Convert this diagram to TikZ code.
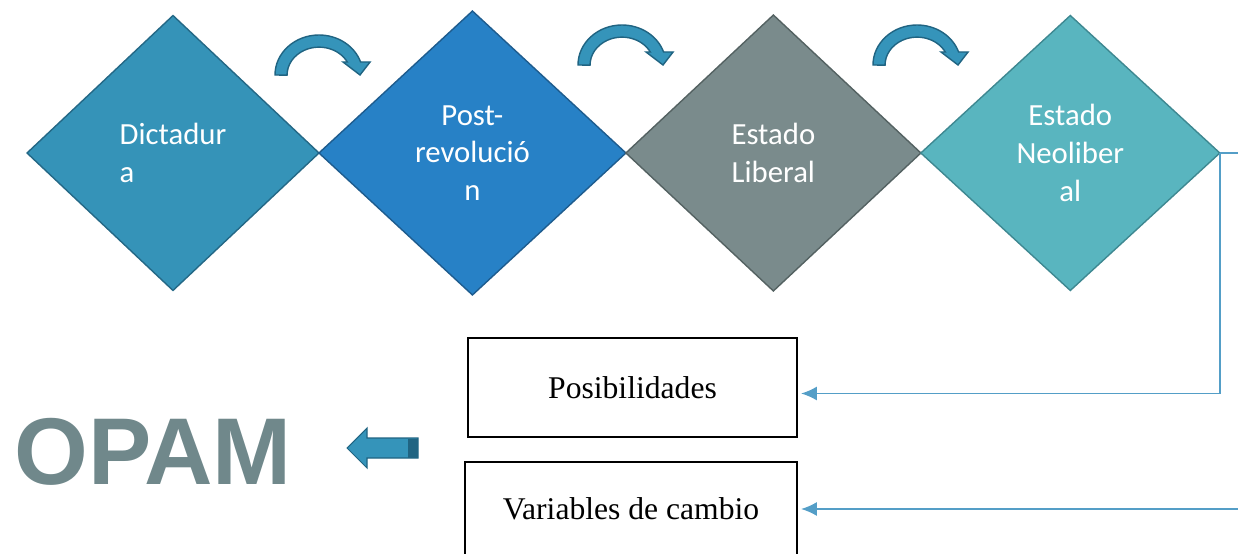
\documentclass[tikz,border=0pt]{standalone}
\usepackage{fontspec}
\setmainfont{Liberation Serif}
\newfontfamily\calibrifont{Carlito}
\newfontfamily\opamfont{Liberation Sans}
\usetikzlibrary{positioning,shapes.geometric,arrows.meta}

\definecolor{dictadura}{RGB}{53,147,184}
\definecolor{dictaduraborde}{RGB}{36,104,134}
\definecolor{postrev}{RGB}{39,129,198}
\definecolor{postrevborde}{RGB}{30,92,142}
\definecolor{liberal}{RGB}{122,139,140}
\definecolor{liberalborde}{RGB}{84,98,98}
\definecolor{neoliberal}{RGB}{89,181,191}
\definecolor{neoliberalborde}{RGB}{62,136,145}
\definecolor{flecha}{RGB}{53,148,186}
\definecolor{flechaborde}{RGB}{32,100,130}
\definecolor{linea}{RGB}{84,158,199}
\definecolor{opamgris}{RGB}{112,136,139}

\tikzset{
  estado/.style={diamond, draw, line width=0.8pt, outer sep=0pt, inner sep=0pt,
    text=white, align=center, font=\calibrifont\fontsize{17.5}{21.5}\selectfont},
  caja/.style={draw, line width=0.7pt, font=\fontsize{18}{22}\selectfont},
  conector/.style={draw=linea, line width=0.9pt},
  giro/.style={fill=flecha, draw=flechaborde, line width=0.8pt},
}

\begin{document}
\begin{tikzpicture}[x=0.02cm, y=-0.02cm]
  \useasboundingbox (0,0) rectangle (1238,554);
  \clip (0,0) rectangle (1238,554);

  % etapas
  \node[estado, fill=dictadura, draw=dictaduraborde, align=left,
        minimum width=5.84cm, minimum height=5.5cm] (d1) at (173,153) {Dictadur\\a};
  \node[estado, fill=postrev, draw=postrevborde,
        minimum width=6.14cm, minimum height=5.68cm, right=0pt of d1] (d2) {Post-\\revolució\\n};
  \node[estado, fill=liberal, draw=liberalborde,
        minimum width=5.9cm, minimum height=5.52cm, right=0pt of d2] (d3) {Estado\\Liberal};
  \node[estado, fill=neoliberal, draw=neoliberalborde,
        minimum width=5.98cm, minimum height=5.5cm, right=0pt of d3] (d4) {Estado\\Neoliber\\al};

  % flechas curvas entre etapas
  \foreach \x/\y in {275/75, 578/65, 873/65}
    \draw[giro] (\x,\y) arc[start angle=180, end angle=341, x radius=44, y radius=40]
      -- ++(9.5,0) -- (\x+85,\y) -- (\x+68,\y-13) -- (\x+72.3,\y-13)
      arc[start angle=332, end angle=180, x radius=32, y radius=28] -- cycle;

  % cajas
  \node[caja, minimum width=6.58cm, minimum height=1.98cm] (p1) at (632.5,387.5) {Posibilidades};
  \node[caja, minimum width=6.64cm, minimum height=1.88cm] (p2) at (631,509) {Variables de cambio};

  % conectores
  \coordinate (fin1) at (1238,153);
  \coordinate (fin2) at (1238,509);
  \draw[conector] (d4.east) -- (fin1);
  \draw[conector, -{Latex[length=9pt,width=8pt]}] (d4.east) |- ([xshift=2pt,yshift=-0.12cm]p1.east);
  \draw[conector, -{Latex[length=9pt,width=8pt]}] (fin2) -- ([xshift=2pt]p2.east);

  % OPAM
  \node[text=opamgris, font=\opamfont\bfseries\fontsize{54}{60}\selectfont] (opam) at (153,452) {OPAM};
  \draw[fill=flecha, draw=flechaborde, line width=0.6pt]
    (418,438) -- (367,438) -- (367,428) -- (347,448) -- (367,468) -- (367,458) -- (418,458) -- cycle;
  \fill[flechaborde] (408,438.5) rectangle (417.6,457.5);
\end{tikzpicture}
\end{document}
